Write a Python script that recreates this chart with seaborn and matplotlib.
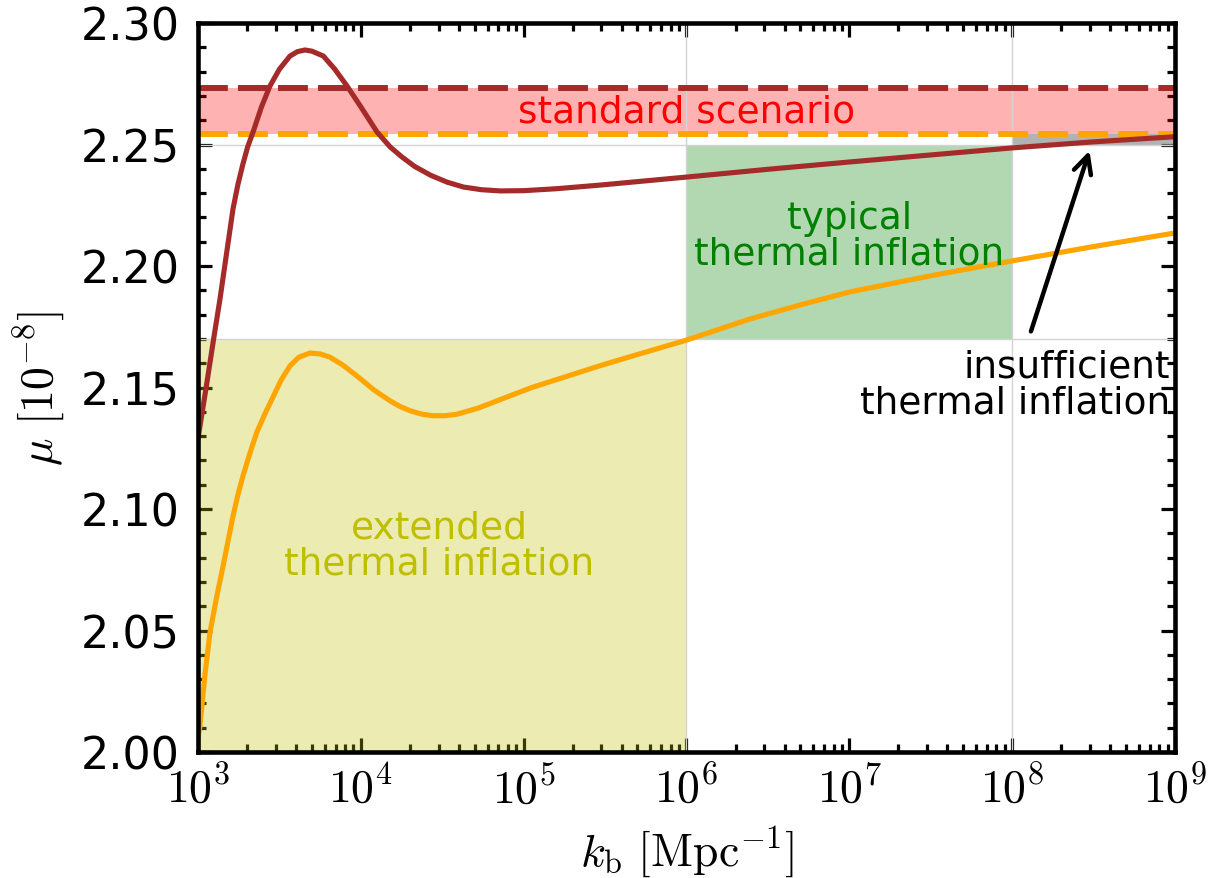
import matplotlib
matplotlib.use("Agg")
import matplotlib.pyplot as plt
import matplotlib.ticker as mticker
import numpy as np
import seaborn as sns

sns.set_theme(style="ticks")
plt.rcParams['font.family'] = ['DejaVu Sans']
plt.rcParams['mathtext.fontset'] = 'cm'
plt.rcParams.update({'text.color': 'black', 'axes.labelcolor': 'black',
                     'xtick.color': 'black', 'ytick.color': 'black'})

OLIVE = (0.75, 0.75, 0.0)

# ─── DATA ─────────────────────────────────────────────────────────────────────
# brown curve: log10(k_b), mu
BROWN_LOGK = [3.00, 3.05, 3.096, 3.135, 3.175, 3.215, 3.245, 3.276, 3.305, 3.338,
              3.39, 3.442, 3.50, 3.565, 3.61, 3.657, 3.70, 3.77, 3.84, 3.915,
              4.00, 4.10, 4.18, 4.25, 4.33, 4.43, 4.53, 4.63, 4.74, 4.855,
              5.0, 5.2, 5.47, 6.0, 6.5, 7.0, 7.5, 8.0, 8.5, 9.0]
BROWN_MU = [2.129, 2.150, 2.170, 2.1864, 2.205, 2.2235, 2.2335, 2.2420, 2.2490, 2.2551,
            2.2655, 2.2741, 2.2810, 2.2864, 2.2882, 2.2889, 2.2884, 2.2864, 2.2810, 2.2741,
            2.2655, 2.2551, 2.2490, 2.2450, 2.2410, 2.2373, 2.2345, 2.2325, 2.2314, 2.2309,
            2.2310, 2.2318, 2.2333, 2.2366, 2.2398, 2.2428, 2.2457, 2.2486, 2.2511, 2.2532]

# orange curve
ORANGE_LOGK = [3.00, 3.012, 3.043, 3.074, 3.115, 3.154, 3.185, 3.215, 3.245, 3.276,
               3.32, 3.362, 3.41, 3.455, 3.51, 3.565, 3.62, 3.688, 3.75, 3.81,
               3.89, 3.977, 4.08, 4.18, 4.24, 4.30, 4.37, 4.44, 4.52, 4.59,
               4.72, 4.855, 5.05, 5.27, 5.47, 5.67, 6.0, 6.39, 6.7, 7.0,
               7.5, 8.0, 8.5, 9.0]
ORANGE_MU = [2.006, 2.0107, 2.032, 2.0494, 2.0640, 2.0765, 2.0870, 2.0971, 2.1058, 2.1136,
             2.1232, 2.1317, 2.1390, 2.1453, 2.1530, 2.1589, 2.1625, 2.1642, 2.1638, 2.1625,
             2.1592, 2.1547, 2.1490, 2.1445, 2.1422, 2.1405, 2.1391, 2.1384, 2.1384, 2.1390,
             2.1415, 2.1450, 2.1500, 2.1547, 2.1590, 2.1630, 2.1695, 2.1782, 2.1840, 2.1893,
             2.1960, 2.2021, 2.2080, 2.2136]

# standard scenario band
STD_LO, STD_HI = 2.2543, 2.2733
# regions: (k_lo, k_hi, mu_lo, mu_hi)
EXT_REGION = (1e3, 1e6, 2.00, 2.17)
TYP_REGION = (1e6, 1e8, 2.17, 2.25)
INS_REGION = (1e8, 1e9, 2.25, 2.2543)

XLIM = (1e3, 1e9)
YLIM = (2.00, 2.30)

# ─── PLOT ─────────────────────────────────────────────────────────────────────
fig = plt.figure(figsize=(12.08, 8.79), dpi=100)
ax = fig.add_axes([198/1208, 1 - 753/879, (1175-198)/1208, (753-24)/879])

ax.axhspan(STD_LO, STD_HI, color='red', alpha=0.3, lw=0, zorder=1)
ax.fill_between([EXT_REGION[0], EXT_REGION[1]], EXT_REGION[2], EXT_REGION[3],
                color=OLIVE, alpha=0.3, lw=0, zorder=1)
ax.fill_between([TYP_REGION[0], TYP_REGION[1]], TYP_REGION[2], TYP_REGION[3],
                color='green', alpha=0.3, lw=0, zorder=1)
ax.fill_between([INS_REGION[0], INS_REGION[1]], INS_REGION[2], INS_REGION[3],
                color='gray', alpha=0.6, lw=0, zorder=1)

for v in [EXT_REGION[1], TYP_REGION[1]]:
    ax.axvline(v, color='lightgray', lw=1, zorder=1.5)
for h in [EXT_REGION[3], TYP_REGION[3]]:
    ax.axhline(h, color='lightgray', lw=1, zorder=1.5)

ax.axhline(STD_HI, color='brown', lw=4.3, dashes=(5, 1.7), zorder=2)
ax.axhline(STD_LO, color='orange', lw=4.3, dashes=(5, 1.7), zorder=2)

sns.lineplot(x=10**np.array(BROWN_LOGK), y=BROWN_MU, ax=ax, color='brown', lw=3.7, zorder=3)
sns.lineplot(x=10**np.array(ORANGE_LOGK), y=ORANGE_MU, ax=ax, color='orange', lw=3.7, zorder=3)

ax.set_xscale('log')
ax.set_xlim(*XLIM)
ax.set_ylim(*YLIM)

ax.text(1e6, 2.2635, 'standard scenario', color='red', fontsize=27,
        ha='center', va='center', zorder=4)
ax.text(1e7, 2.2125, 'typical\nthermal inflation', color='green', fontsize=27,
        ha='center', va='center', linespacing=1.0, zorder=4)
ax.text(10**4.48, 2.085, 'extended\nthermal inflation', color=OLIVE, fontsize=27,
        ha='center', va='center', linespacing=1.0, zorder=4)
ax.text(10**8.97, 2.1514, 'insufficient\nthermal inflation', color='black', fontsize=27,
        ha='right', va='center', linespacing=1.0, zorder=4)
ax.annotate('', xy=(10**8.48, 2.2485), xytext=(10**8.11, 2.172),
            arrowprops=dict(arrowstyle='->', color='black', lw=3.2, mutation_scale=32), zorder=4)

ax.xaxis.set_major_locator(mticker.LogLocator(base=10, numticks=10))
ax.xaxis.set_minor_locator(mticker.LogLocator(base=10, subs=np.arange(2, 10), numticks=20))
ax.xaxis.set_major_formatter(mticker.FuncFormatter(lambda v, p: r'$10^{%d}$' % round(np.log10(v))))
ax.xaxis.set_minor_formatter(mticker.NullFormatter())
ax.yaxis.set_major_locator(mticker.MultipleLocator(0.05))
ax.yaxis.set_minor_locator(mticker.MultipleLocator(0.01))
ax.yaxis.set_major_formatter(mticker.FormatStrFormatter('%.2f'))

ax.tick_params(which='both', direction='in', top=True, right=True, width=2.3, color='black')
ax.tick_params(which='major', length=10)
ax.tick_params(which='minor', length=5.5)
ax.tick_params(axis='x', labelsize=33, pad=10)
ax.tick_params(axis='y', labelsize=32, pad=13)
for s in ax.spines.values():
    s.set_linewidth(3.3)
    s.set_color('black')
    s.set_zorder(5)

ax.set_xlabel(r'$k_{\rm b}\ [{\rm Mpc}^{-1}]$', fontsize=33, labelpad=8)
ax.set_ylabel(r'$\mu\ [10^{-8}]$', fontsize=33, labelpad=10)

fig.savefig('out.png', dpi=100)
